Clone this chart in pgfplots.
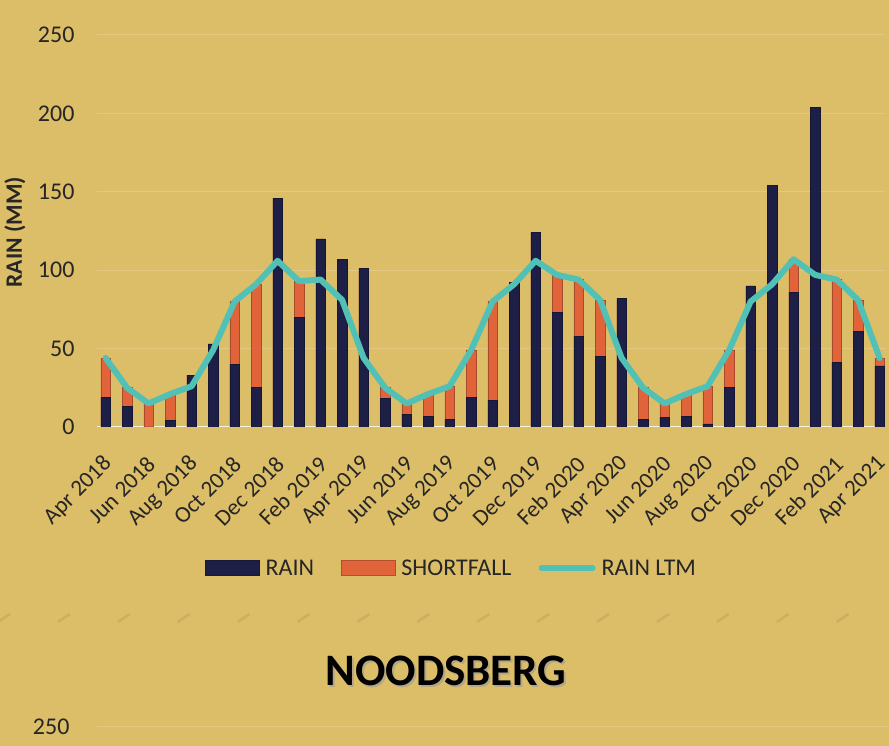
\documentclass[border=0pt]{standalone}
\usepackage{fontspec}
\setmainfont{Carlito}
\usepackage{pgfplots}
\usepackage{pgfplotstable}
\pgfplotsset{compat=1.18}

\definecolor{bg}{HTML}{DCBD68}
\definecolor{rainc}{HTML}{1E1F47}
\definecolor{shortc}{HTML}{E0633A}
\definecolor{ltmc}{HTML}{52C1B5}
\definecolor{gridc}{HTML}{E3C983}
\definecolor{txt}{HTML}{262626}

\pgfplotsset{
    barleg/.style={legend image code/.code={\draw[##1] (0pt,-7.5pt) rectangle (54pt,7.5pt);}},
    lineleg/.style={legend image code/.code={\draw[##1] (3pt,0pt) -- (54pt,0pt);}},
}

% x = month index (0 = Apr 2018), rain, shortfall below the long-term mean, ltm
\pgfplotstableread{
x rain short ltm
0  19  25 44
1  13  12 25
2   0  15 15
3   4  17 21
4  33   0 26
5  53   0 49
6  40  40 80
7  25  66 91
8 146   0 106
9  70  23 93
10 120  0 94
11 107  0 81
12 101  0 44
13  18  7 25
14   8  7 15
15   7 14 21
16   5 21 26
17  19 30 49
18  17 63 80
19  92  0 91
20 124  0 106
21  73 24 97
22  58 36 94
23  45 36 81
24  82  0 44
25   5 20 25
26   6  9 15
27   7 14 21
28   2 24 26
29  25 24 49
30  90  0 80
31 154  0 91
32  86 21 107
33 204  0 97
34  41 53 94
35  61 20 81
36  39  5 44
}\data

\begin{document}
\begin{tikzpicture}[x=1pt,y=1pt]
\fill[bg] (0,0) rectangle (889,746);
\useasboundingbox (0,0) rectangle (889,746);
\coordinate (origin) at (97,319);

\begin{axis}[
    at={(origin)}, anchor=south west,
    width=788pt, height=392pt, scale only axis,
    xmin=-0.4, xmax=36.25,
    ymin=0, ymax=250,
    ytick={0,50,...,250},
    xtick={0,2,...,36},
    xticklabels={Apr 2018,Jun 2018,Aug 2018,Oct 2018,Dec 2018,Feb 2019,Apr 2019,Jun 2019,Aug 2019,Oct 2019,Dec 2019,Feb 2020,Apr 2020,Jun 2020,Aug 2020,Oct 2020,Dec 2020,Feb 2021,Apr 2021},
    major tick length=0pt,
    axis line style={draw=none},
    ymajorgrids,
    grid style={draw=gridc, line width=1pt},
    /pgf/number format/assume math mode=true,
    ticklabel style={font=\fontsize{24}{28}\selectfont, text=txt},
    yticklabel style={anchor=east, xshift=-19pt},
    xticklabel style={xshift=5pt, yshift=-31pt, rotate=45, anchor=east, font=\fontsize{23}{27}\selectfont},
    ylabel={\bfseries RAIN (MM)},
    ylabel style={at={(axis description cs:-0.104,0.497)}, anchor=center, rotate=0, font=\fontsize{23.5}{28}\selectfont, text=txt},
    ybar, bar width=9.5pt,
    legend style={at={(axis description cs:0.450,-0.36)}, anchor=center,
        draw=none, fill=none, legend columns=3,
        font=\fontsize{24}{28}\selectfont, text=txt,
        /tikz/every odd column/.append style={column sep=4pt},
        /tikz/every even column/.append style={column sep=25pt}},
]
\addlegendimage{barleg, fill=rainc, draw=rainc!80!black}
\addlegendentry{RAIN}
\addlegendimage{barleg, fill=shortc, draw=shortc!80!black}
\addlegendentry{SHORTFALL}
\addlegendimage{lineleg, draw=ltmc, line width=6pt, line cap=round}
\addlegendentry{RAIN LTM}

% zero line
\draw[draw=white!80!bg, line width=1.5pt] (axis cs:-0.4,0) -- (axis cs:36.25,0);

% rain plus shortfall (orange), with rain drawn over it
\addplot[forget plot, bar shift=0pt, fill=shortc, draw=shortc!75!black, line width=0.6pt]
    table[x=x, y expr=\thisrow{rain}+\thisrow{short}] {\data};
\addplot[forget plot, bar shift=0pt, fill=rainc, draw=rainc!70!black, line width=0.6pt]
    table[x=x, y=rain] {\data};
\addplot[forget plot, sharp plot, draw=ltmc, line width=6pt, line join=round, line cap=round, mark=none]
    table[x=x, y=ltm] {\data};
\end{axis}

% faint separator
\foreach \i in {0,...,14}
    \draw[draw=bg!88!black, line width=2.5pt, opacity=0.6] ({-2+59.9*\i},124) -- ({10+59.9*\i},132);

% title of the next chart
\node[font=\bfseries\fontsize{45}{54}\selectfont, text=black!40, opacity=0.6] at (448,73) {NOODSBERG};
\node[font=\bfseries\fontsize{45}{54}\selectfont, text=black] at (446,75) {NOODSBERG};

% top of the next chart
\draw[draw=gridc, line width=1pt] (97,19) -- (889,19);
\node[anchor=east, font=\fontsize{24}{28}\selectfont, text=txt] at (73,19) {250};
\end{tikzpicture}
\end{document}
